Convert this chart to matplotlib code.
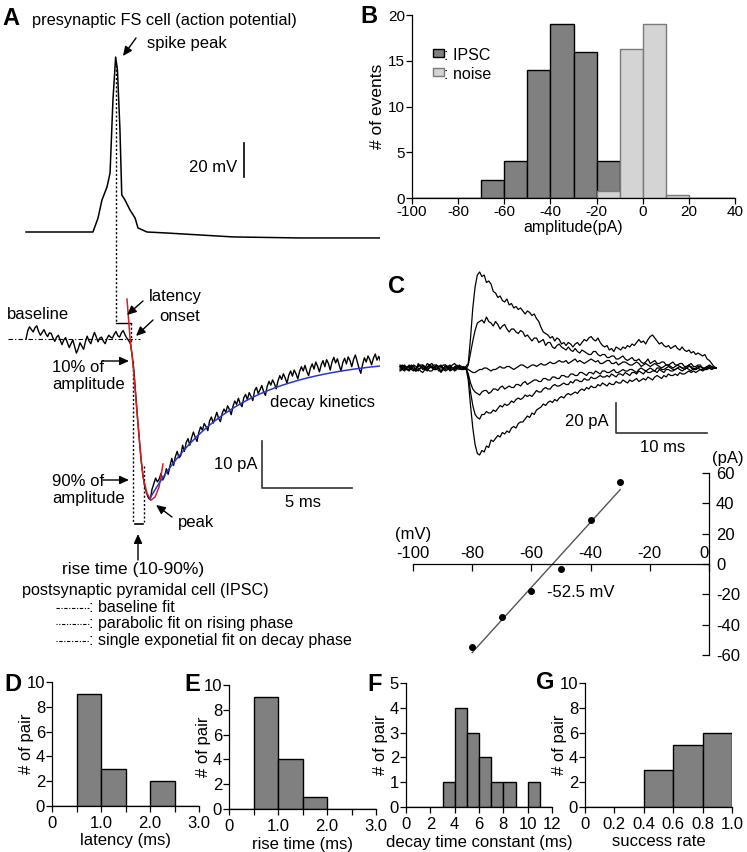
import numpy as np
import matplotlib
matplotlib.use('Agg')
import matplotlib.pyplot as plt
from matplotlib.patches import Rectangle

plt.rcParams['font.family'] = ['Liberation Sans', 'DejaVu Sans']
plt.rcParams['axes.linewidth'] = 0.9

# ---------------- data ----------------
# Panel A: presynaptic action potential (time ms, membrane potential mV)
ap_t = [0, 3.72, 4.0, 4.22, 4.5, 4.67, 4.83, 4.98, 5.08, 5.22, 5.32, 5.5, 5.78,
        6.06, 6.22, 6.72, 7.83, 11.5, 15.2, 19.83]
ap_mv = [-70, -70, -61.8, -51.2, -43.5, -35.3, 7.6, 32.9, 25.3, -10, -48.2, -51.2,
         -57.1, -61.8, -67.6, -70, -70.6, -72.9, -73.5, -73.5]

# Panel A: postsynaptic IPSC, sampled every 0.1 ms (pA)
ipsc_pa = [
    # baseline 0.0 - 5.8 ms
    0.0, 1.8, 2.6, 2.0, 1.5, 2.4, 2.8, 1.6, 0.8, 1.4,
    2.0, 1.1, 0.5, 1.3, 1.2, 0.2, -0.5, 0.4, 0.8, -0.3,
    -1.2, -0.2, 0.3, -0.8, -1.8, -1.0, -0.2, -1.6, -3.0, -2.1,
    -0.8, -1.5, -2.2, -0.6, 0.6, -0.4, -1.0, 0.3, 1.4, 0.5,
    -0.6, 0.2, 0.4, -0.5, -1.0, 0.1, 0.8, 0.4, 0.2, 1.0,
    1.6, 0.7, 0.4, 1.3, 1.8, 0.9, 0.2, -0.3, -1.0,
    # rising phase 5.9 - 6.9 ms
    -3.5, -7.0, -12.0, -17.0, -21.5, -26.0, -29.0, -31.5, -32.8, -33.8, -34.2,
    # decay 7.0 - 19.7 ms
    -32.0, -30.8, -29.6, -30.4, -29.8, -28.6, -30.0, -29.2, -27.6, -28.8,
    -27.0, -25.4, -26.9, -25.0, -23.9, -25.3, -24.8, -22.6, -23.9, -22.0,
    -21.2, -22.6, -21.0, -19.8, -20.9, -21.8, -19.9, -18.7, -19.4, -18.0,
    -18.6, -19.5, -17.4, -16.6, -17.9, -16.8, -15.6, -16.9, -17.6, -15.8,
    -14.9, -15.6, -14.2, -15.0, -16.1, -14.3, -13.2, -13.9, -12.6, -13.8,
    -14.4, -12.5, -11.8, -12.9, -11.4, -12.2, -13.1, -11.0, -10.3, -11.6,
    -10.8, -9.9, -11.2, -12.0, -10.1, -9.0, -9.8, -8.7, -9.5, -10.6,
    -8.9, -7.8, -8.6, -7.4, -8.3, -9.4, -7.7, -6.8, -7.9, -6.6,
    -7.4, -8.5, -6.9, -5.9, -6.8, -5.6, -6.9, -7.8, -6.2, -5.3,
    -6.4, -4.9, -5.8, -7.0, -5.5, -4.6, -5.9, -4.4, -5.2, -6.6,
    -4.9, -3.9, -5.1, -4.2, -5.6, -6.8, -5.0, -4.1, -5.3, -3.8,
    -4.6, -5.9, -4.3, -3.4, -4.8, -6.2, -7.3, -5.4, -4.0, -4.9,
    -3.6, -4.4, -5.5, -4.1, -3.2, -4.5, -3.7, -4.8]
ipsc_dt = 0.1

# parabolic fit on the rising phase (time ms, pA)
para_t = [5.61, 5.78, 5.94, 6.17, 6.33, 6.5, 6.72, 6.94, 7.17, 7.39, 7.61]
para_pa = [8.5, 0.2, -5.1, -15.7, -23.0, -29.4, -32.8, -34.3, -33.6, -31.5, -26.6]

# single exponential fit on the decay phase
exp_t0, exp_t1 = 6.9, 19.8      # ms
exp_amp, exp_tau, exp_offset = -29.8, 4.5, -4.0

# annotation times (ms)
spike_peak_t = 4.98
onset_t = 5.83
rise10_t, rise90_t = 5.94, 6.56

# Panel B: amplitude histogram
b_edges = [-100, -90, -80, -70, -60, -50, -40, -30, -20, -10, 0, 10, 20, 30]
b_ipsc = [0, 0, 0, 2, 4, 14, 19, 16, 4, 0, 0, 0, 0, 0]
b_noise = [0, 0, 0, 0, 0, 0, 0, 0, 0.8, 16.3, 19, 0.3, 0, 0]

# Panel C: IPSC traces at -30 ... -80 mV (sampled every 0.25 ms, pA)
c_dt = 0.25
c_traces = [
    [1, -1, -2, 0, 2, 1, -1, -2, 3, 1, 0, -1, -2, 1, 1, 2, 2, 0, -3, -1, 0, 1, 2, 0, -1, 1, 1, -1, 0, 1,
     3, 20, 40, 54, 62, 64, 61, 62, 57, 58,
     56, 51, 50, 47, 48, 45, 44, 46, 42, 43,
     40, 41, 39, 40, 38, 36, 38, 37, 35, 36,
     33, 31, 27, 24, 23, 22, 20, 21, 18, 20,
     19, 16, 17, 15, 17, 16, 14, 16, 17, 15,
     17, 19, 18, 20, 21, 19, 18, 20, 17, 15,
     14, 15, 12, 13, 11, 14, 13, 12, 14, 13,
     15, 14, 16, 15, 17, 19, 17, 18, 16, 19,
     21, 22, 20, 18, 16, 17, 15, 14, 15, 13,
     14, 15, 13, 12, 14, 12, 11, 12, 10, 11,
     9, 10, 9, 8, 9, 6, 5, 3, 1, 0],
    [-1, 0, 1, -1, -2, 0, 2, 1, 0, -2, -3, -1, 1, 2, 3, 1, -1, 0, 0, 2, 2, 0, -2, -1, 1, 0, -1, 1, 0, -1,
     2, 10, 18, 25, 30, 31, 32, 30, 34, 31,
     30, 28, 31, 29, 26, 28, 29, 26, 24, 26,
     26, 24, 23, 25, 24, 21, 22, 20, 18, 20,
     20, 17, 18, 19, 15, 17, 17, 14, 13, 15,
     16, 14, 13, 12, 14, 12, 11, 13, 11, 10,
     12, 11, 10, 9, 9, 11, 11, 9, 8, 9,
     9, 7, 7, 8, 8, 6, 6, 7, 8, 6,
     5, 6, 7, 5, 5, 6, 4, 3, 4, 6,
     3, 4, 5, 3, 3, 4, 4, 2, 2, 3,
     4, 2, 2, 3, 3, 1, 1, 2, 3, 1,
     1, 2, 2, 0, 0, 1, 2, 1, 0, 0],
    [0, 1, 2, 0, 1, -1, -2, 0, 1, 2, 2, 0, -1, -2, -2, 0, 2, 1, 1, -1, -2, -1, 0, 2, 3, 1, 0, -1, -1, 0,
     -1, -2, -3, -3, -2, -1, -1, 0, 0, -1,
     -2, -1, -1, 0, 1, 0, 0, 1, 1, 0,
     -1, 0, 1, 2, 2, 1, 0, 1, 2, 2,
     1, 2, 3, 2, 2, 3, 4, 3, 3, 4,
     5, 4, 4, 5, 3, 4, 5, 6, 4, 5,
     4, 3, 4, 5, 6, 5, 4, 5, 3, 3,
     4, 5, 5, 3, 3, 4, 2, 3, 4, 4,
     3, 2, 2, 3, 4, 3, 1, 2, 3, 2,
     1, 2, 3, 2, 1, 0, 1, 2, 2, 1,
     0, 1, 2, 1, 0, 0, 1, 2, 0, -1,
     0, 1, 1, 0, -1, 0, 1, 0, 0, 0],
    [2, 0, -1, 0, 0, 1, 1, -1, -2, 0, 1, 0, 3, 2, 0, -1, -1, 1, 2, 0, -1, 0, 1, 0, -2, -1, 2, 1, 0, 0,
     -4, -10, -14, -16, -17, -18, -16, -15, -15, -17,
     -16, -14, -14, -15, -13, -12, -14, -13, -12, -13,
     -13, -11, -11, -12, -10, -9, -11, -10, -9, -8,
     -8, -9, -9, -7, -7, -8, -8, -6, -6, -7,
     -7, -5, -5, -6, -6, -4, -4, -5, -5, -3,
     -3, -4, -5, -3, -3, -4, -2, -3, -4, -2,
     -2, -3, -3, -2, -1, -3, -3, -2, -1, -2,
     -2, -1, -1, -2, -3, -1, 0, -1, -2, -1,
     0, -1, -2, 0, 0, -1, -1, 0, 1, 0,
     -1, -1, 0, 1, 0, -1, 0, 1, 1, -1,
     -1, 0, 1, 0, -1, 0, 0, 1, 0, 0],
    [-2, -1, 0, 1, 1, 0, -1, -2, 2, 1, -1, 0, 0, 2, 1, -1, -1, 0, -2, -1, 2, 1, 0, -1, -1, 0, 1, 0, -1, 0,
     -5, -16, -25, -31, -33, -34, -31, -31, -29, -30,
     -30, -28, -29, -27, -25, -26, -24, -25, -24, -22,
     -23, -21, -20, -21, -20, -18, -19, -18, -19, -17,
     -15, -16, -16, -14, -13, -14, -14, -12, -11, -12,
     -12, -11, -10, -11, -11, -9, -10, -8, -8, -9,
     -9, -7, -8, -8, -6, -7, -7, -6, -5, -6,
     -6, -5, -6, -4, -5, -6, -4, -4, -5, -3,
     -4, -5, -3, -3, -4, -2, -3, -4, -2, -3,
     -3, -2, -2, -3, -1, -2, -3, -1, -1, -2,
     -2, -1, 0, -1, -2, -1, 0, -1, -2, 0,
     -1, 0, -1, -1, 0, 1, 0, -1, 0, 0],
    [1, 2, 0, -1, -1, 2, 1, -2, -1, 0, 2, 1, -1, 0, 1, 0, 1, -2, -2, 0, 1, 1, -1, -1, 0, 2, 0, -1, 1, 0,
     -8, -25, -40, -51, -57, -58, -55, -56, -52, -53,
     -48, -49, -47, -45, -46, -43, -44, -42, -43, -40,
     -39, -40, -37, -36, -36, -34, -32, -33, -30, -31,
     -28, -27, -26, -24, -25, -23, -22, -23, -21, -22,
     -20, -19, -20, -18, -17, -18, -17, -16, -17, -15,
     -14, -15, -13, -14, -12, -13, -13, -11, -12, -10,
     -11, -12, -10, -11, -11, -9, -10, -10, -8, -9,
     -10, -8, -9, -8, -7, -9, -8, -7, -8, -6,
     -7, -8, -6, -5, -6, -7, -5, -6, -4, -5,
     -5, -4, -5, -3, -4, -4, -3, -2, -3, -2,
     -3, -2, -1, -2, -1, -1, 0, -1, 0, 0],
]

# Panel C: I-V relation
iv_mv = [-80, -70, -60, -50, -40, -30]
iv_pa = [-55, -35, -18, -3, 29, 54]
iv_xticks = [-100, -80, -60, -40, -20, 0]
iv_yticks = [-60, -40, -20, 0, 20, 40, 60]

# Panels D-G: histograms (# of pair)
d_edges = [0, 0.5, 1.0, 1.5, 2.0, 2.5]
d_counts = [0, 9, 3, 0, 2, 0]
e_edges = [0, 0.5, 1.0, 1.5, 2.0, 2.5]
e_counts = [0, 9, 4, 1, 0, 0]
f_edges = [0, 1, 2, 3, 4, 5, 6, 7, 8, 9, 10, 11]
f_counts = [0, 0, 0, 1, 4, 3, 2, 1, 1, 0, 1, 0]
g_edges = [0, 0.2, 0.4, 0.6, 0.8]
g_counts = [0, 0, 3, 5, 6]

# ---------------- figure ----------------
W, H = 747, 852
fig = plt.figure(figsize=(W / 100, H / 100), dpi=100)


def px_axes(x0, y0, x1, y1, **kw):
    return fig.add_axes([x0 / W, 1 - y1 / H, (x1 - x0) / W, (y1 - y0) / H], **kw)


# ---- Panel A: action potential
ax_ap = px_axes(0, 40, 380, 260)
ax_ap.set_xlim(-26 / 18, (380 - 26) / 18)
ax_ap.set_ylim(-70 - (260 - 232) / 1.7, -70 + (232 - 40) / 1.7)
ax_ap.plot(ap_t, ap_mv, color='k', lw=1.1)
ax_ap.plot([12.11, 12.11], [-17.6, -37.6], color='k', lw=1.2)   # 20 mV bar
ax_ap.axis('off')

# ---- Panel A: IPSC
ax_i = px_axes(0, 270, 380, 600)
ax_i.set_xlim(-26 / 18, (380 - 26) / 18)
ax_i.set_ylim((339 - 600) / 4.7, (339 - 270) / 4.7)
t_ipsc = np.arange(len(ipsc_pa)) * ipsc_dt
ax_i.plot(t_ipsc, ipsc_pa, color='k', lw=1.0, zorder=3)
ax_i.plot(para_t, para_pa, color='#d81e1e', lw=1.1, zorder=4)
t_exp = np.linspace(exp_t0, exp_t1, 200)
ax_i.plot(t_exp, exp_offset + exp_amp * np.exp(-(t_exp - exp_t0) / exp_tau),
          color='#2b35d6', lw=1.1, zorder=4)
ax_i.plot([-1.0, 6.33], [0, 0], color='k', lw=0.8, ls=(0, (4, 2, 1, 2)), zorder=2)
dot = (0, (1.5, 1.5))
ax_i.plot([spike_peak_t, spike_peak_t], [58.3, 3.4], color='k', lw=1.0, ls=dot, clip_on=False)
ax_i.plot([spike_peak_t, onset_t], [3.4, 3.4], color='k', lw=1.0)
ax_i.plot([onset_t, onset_t], [3.4, -1.0], color='k', lw=1.0, ls=dot)
ax_i.plot([rise10_t, rise10_t], [-4.7, -39.0], color='k', lw=1.0, ls=dot)
ax_i.plot([rise90_t, rise90_t], [-27.0, -39.0], color='k', lw=1.0, ls=dot)
ax_i.plot([6.06, 6.5], [-39.4, -39.4], color='k', lw=1.2)
ax_i.plot([13.11, 13.11, 18.11], [-21.7, -31.7, -31.7], color='#333333', lw=1.2)
ax_i.axis('off')

# ---- Panel B
ax_b = px_axes(412, 15, 735, 198)
ax_b.bar(b_edges, b_ipsc, width=10, align='edge', color='#808080', edgecolor='k', lw=1.0, zorder=2)
ax_b.bar(b_edges, b_noise, width=10, align='edge', color='#d4d4d4', edgecolor='#7a7a7a', lw=1.0, zorder=3)
ax_b.set_xlim(-100, 40)
ax_b.set_ylim(0, 20)
for s in ['top', 'right']:
    ax_b.spines[s].set_visible(False)
ax_b.set_xticks([-100, -80, -60, -40, -20, 0, 20, 40])
ax_b.set_xticklabels(['-100', '-80', '-60', '-40', '-20', '0', '20', '40'])
ax_b.set_yticks([0, 5, 10, 15, 20])
ax_b.tick_params(direction='out', length=4, width=0.9, labelsize=11, pad=1)
ax_b.set_xlabel('amplitude(pA)', fontsize=11.5, labelpad=1)
ax_b.set_ylabel('# of events', fontsize=12.5, labelpad=2)
ax_b.patch.set_visible(False)
for sp in ax_b.spines.values():
    sp.set_zorder(5)

# ---- Panel C traces
ax_c = px_axes(390, 268, 720, 462)
ax_c.set_xlim((390 - 400) / 9.1, (720 - 400) / 9.1)
ax_c.set_ylim((368 - 462) / 1.5, (368 - 268) / 1.5)
for tr in c_traces:
    ax_c.plot(np.arange(len(tr)) * c_dt, tr, color='k', lw=0.9)
ax_c.plot([23.74, 23.74, 33.74], [-23.3, -43.3, -43.3], color='#333333', lw=1.2)
ax_c.axis('off')

# ---- Panel C I-V
ax_iv = px_axes(413, 473, 709, 655)
ax_iv.set_xlim(-100, 0)
ax_iv.set_ylim(-60, 60)
ax_iv.spines['left'].set_visible(False)
ax_iv.spines['bottom'].set_visible(False)
ax_iv.spines['top'].set_position(('data', 0))
ax_iv.xaxis.set_ticks_position('top')
ax_iv.yaxis.set_ticks_position('right')
ax_iv.set_xticks(iv_xticks)
ax_iv.set_xticklabels([str(v) for v in iv_xticks])
ax_iv.set_yticks(iv_yticks)
ax_iv.set_yticklabels([str(v) for v in iv_yticks])
ax_iv.tick_params(axis='x', direction='in', length=5, width=0.9, labelsize=12, pad=2)
ax_iv.tick_params(axis='y', direction='in', length=5, width=0.9, labelsize=12, pad=5)
ax_iv.get_xticklabels()[-1].set_ha('right')
coef = np.polyfit(iv_mv, iv_pa, 1)
xs = np.array([min(iv_mv), max(iv_mv)])
ax_iv.plot(xs, np.polyval(coef, xs), color='#555555', lw=1.0)
ax_iv.plot(iv_mv, iv_pa, 'o', color='k', ms=4, zorder=4, clip_on=False)
ax_iv.patch.set_visible(False)


# ---- Panels D-G
def hist_panel(box, edges, counts, width, xlim, ylim, xticks, xlabels, yticks, xlabel):
    ax = px_axes(*box)
    ax.bar(edges, counts, width=width, align='edge', color='#808080', edgecolor='k', lw=1.0)
    ax.set_xlim(*xlim)
    ax.set_ylim(*ylim)
    for s in ['top', 'right']:
        ax.spines[s].set_visible(False)
    ax.set_xticks(xticks)
    ax.set_xticklabels(xlabels)
    ax.set_yticks(yticks)
    ax.tick_params(direction='out', length=4, width=0.9, labelsize=12)
    ax.tick_params(axis='x', pad=3)
    ax.tick_params(axis='y', pad=1)
    ax.set_xlabel(xlabel, fontsize=12, labelpad=2)
    ax.set_ylabel('# of pair', fontsize=12)
    ax.yaxis.set_label_coords(-0.125, 0.5)
    ax.patch.set_visible(False)
    return ax


hist_panel((52, 682, 199, 806), d_edges, d_counts, 0.5, (0, 3), (0, 10),
           [0, 0.5, 1.0, 1.5, 2.0, 2.5, 3.0], ['0', '', '1.0', '', '2.0', '', '3.0'],
           [0, 2, 4, 6, 8, 10], 'latency (ms)')
hist_panel((229, 685, 376, 809), e_edges, e_counts, 0.5, (0, 3), (0, 10),
           [0, 0.5, 1.0, 1.5, 2.0, 2.5, 3.0], ['0', '', '1.0', '', '2.0', '', '3.0'],
           [0, 2, 4, 6, 8, 10], 'rise time (ms)')
hist_panel((406, 683, 552, 807), f_edges, f_counts, 1, (0, 12), (0, 5),
           [0, 2, 4, 6, 8, 10, 12], ['0', '2', '4', '6', '8', '10', '12'],
           [0, 1, 2, 3, 4, 5], 'decay time constant (ms)')
hist_panel((585, 683, 732, 807), g_edges, g_counts, 0.2, (0, 1), (0, 10),
           [0, 0.2, 0.4, 0.6, 0.8, 1.0], ['0', '0.2', '0.4', '0.6', '0.8', '1.0'],
           [0, 2, 4, 6, 8, 10], 'success rate')

# ---- overlay for text & arrows (pixel coordinates)
ov = fig.add_axes([0, 0, 1, 1], zorder=10)
ov.set_xlim(0, W)
ov.set_ylim(H, 0)
ov.axis('off')


def txt(x, y, s, fs=12, ha='left', va='baseline', **kw):
    ov.text(x, y, s, fontsize=fs, ha=ha, va=va, **kw)


def arrow(x0, y0, x1, y1):
    ov.annotate('', xy=(x1, y1), xytext=(x0, y0),
                arrowprops=dict(arrowstyle='-|>,head_length=0.55,head_width=0.25',
                                color='k', lw=1.0, shrinkA=0, shrinkB=0))


for lab, x, y in [('A', 2, 25), ('B', 360, 23), ('C', 388, 293),
                  ('D', 4, 691), ('E', 184, 691), ('F', 367, 691), ('G', 536, 689)]:
    txt(x, y, lab, fs=17, fontweight='bold')

txt(32, 25, 'presynaptic FS cell (action potential)', fs=11.8)
txt(147, 48, 'spike peak')
arrow(136, 38, 123, 56)
txt(237, 172, '20 mV', ha='right')
txt(149, 301, 'latency')
arrow(143, 301, 127, 315)
txt(159, 321, 'onset')
arrow(153, 320, 136, 336)
txt(7, 319, 'baseline')
txt(52, 360, '10% of\namplitude', va='top', linespacing=1.15)
arrow(103, 361, 129, 361)
txt(52, 474, '90% of\namplitude', va='top', linespacing=1.15)
arrow(103, 480, 129, 480)
txt(270, 407, 'decay kinetics')
txt(257, 469, '10 pA', ha='right')
txt(303, 507, '5 ms', ha='center')
txt(178, 527, 'peak')
arrow(172, 517, 156, 505)
arrow(138, 560, 138, 534)
txt(133, 574, 'rise time (10-90%)', fs=12.5, ha='center')
txt(22, 595, 'postsynaptic pyramidal cell (IPSC)', fs=11.6)
legend_rows = [(612, (0, (3, 1.5, 1, 1.5)), ': baseline fit'),
               (628, (0, (1, 1.5, 1, 1.5, 3, 1.5)), ': parabolic fit on rising phase'),
               (645, (0, (1, 1.5, 3, 1.5)), ': single exponetial fit on decay phase')]
for yb, ls, s in legend_rows:
    ov.plot([56, 89], [yb - 4, yb - 4], color='k', lw=0.8, ls=ls)
    txt(89, yb, s, fs=11.5)

# panel B legend
ov.add_patch(Rectangle((433, 49), 11, 8, fc='#808080', ec='k', lw=1.0))
txt(444, 60, ': IPSC', fs=11.5)
ov.add_patch(Rectangle((433, 68), 11, 8, fc='#d4d4d4', ec='#7a7a7a', lw=1.0))
txt(444, 79, ': noise', fs=11.5)

# panel C texts
txt(609, 426, '20 pA', ha='right')
txt(663, 452, '10 ms', ha='center')
txt(395, 539, '(mV)')
txt(712, 463, '(pA)')
txt(547, 597, '-52.5 mV')

fig.savefig('out.png', dpi=100)
